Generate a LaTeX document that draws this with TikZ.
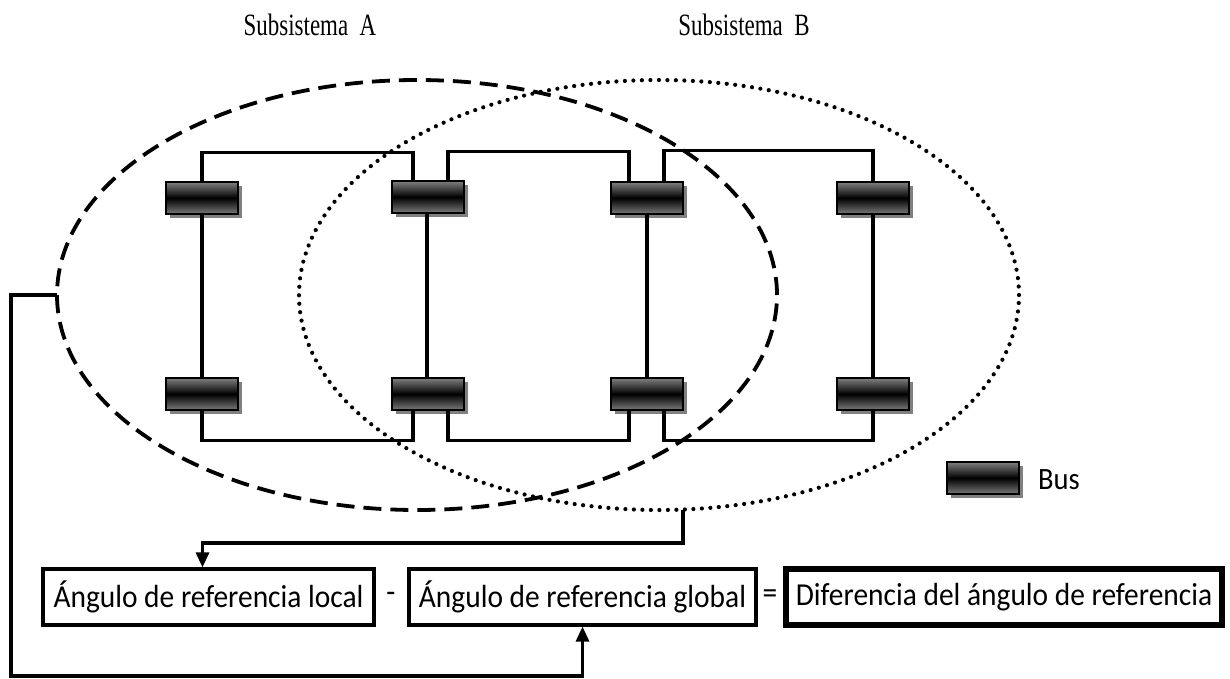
\documentclass[tikz,border=0pt]{standalone}
\usepackage{fontspec}
\setmainfont{Liberation Serif}
\newfontfamily\boxfont[FakeStretch=0.92]{Carlito}
\newfontfamily\titlefont[FakeStretch=0.74]{Liberation Serif}
\usetikzlibrary{arrows.meta,shapes.geometric,shadows}
\begin{document}
\begin{tikzpicture}[x=1pt,y=-1pt,
  bus/.style={draw=black, line width=2.2pt, minimum width=72pt, minimum height=32pt, inner sep=0pt,
     top color=black!50, bottom color=black!52, middle color=black,
     general shadow={fill=black!50, shadow xshift=4pt, shadow yshift=-4pt}},
  wire/.style={line width=3.2pt, line join=miter},
  conn/.style={line width=3.2pt, line join=miter, -{Triangle[width=13pt,length=15pt]}},
  eqbox/.style={draw, line width=3.2pt, minimum height=56pt, inner sep=0pt,
     font=\boxfont\fontsize{32}{38}\selectfont},
  optext/.style={font=\boxfont\fontsize{32}{38}\selectfont, inner sep=0pt},
  title/.style={font=\titlefont\fontsize{31}{35}\selectfont},
  subsysA/.style={ellipse, draw, line width=3.8pt, dash pattern=on 18pt off 9pt,
     minimum width=720pt, minimum height=430pt, inner sep=0pt, outer sep=0pt},
  subsysB/.style={ellipse, draw, line width=4.2pt, line cap=round, dash pattern=on 0pt off 8.5pt,
     minimum width=720pt, minimum height=430pt, inner sep=0pt, outer sep=0pt}
]
\useasboundingbox (0,0) rectangle (1230,679);

% titles
\node[title] (tA) at (310,25) {Subsistema\ \ A};
\node[title] (tB) at (744,25) {Subsistema\ \ B};

% buses
\node[bus] (t1) at (202,198) {};
\node[bus] (t2) at (428,197) {};
\node[bus] (t3) at (647,198) {};
\node[bus] (t4) at (873,198) {};
\node[bus] (b1) at (202,394) {};
\node[bus] (b2) at (428,394) {};
\node[bus] (b3) at (647,394) {};
\node[bus] (b4) at (873,394) {};

% vertical lines
\draw[wire] (t1.south) -- (b1.north);
\draw[wire] ([xshift=-1pt]t2.south) -- ([xshift=-1pt]b2.north);
\draw[wire] (t3.south) -- (b3.north);
\draw[wire] (t4.south) -- (b4.north);

% top links
\draw[wire] (t1.north) -- ++(0,-28) -| ([xshift=-15pt]t2.north);
\draw[wire] ([xshift=20pt]t2.north) -- ++(0,-28) -| ([xshift=-18pt]t3.north);
\draw[wire] ([xshift=17pt]t3.north) -- ++(0,-30) -| (t4.north);

% bottom links
\draw[wire] (b1.south) -- ++(0,29) -| ([xshift=-15pt]b2.south);
\draw[wire] ([xshift=20pt]b2.south) -- ++(0,29) -| ([xshift=-18pt]b3.south);
\draw[wire] ([xshift=17pt]b3.south) -- ++(0,29) -| (b4.south);

% subsystems
\node[subsysA] (subA) at (417,295) {};
\node[subsysB] (subB) at (659,295) {};

% legend
\node[bus] (leg) at (983,478) {};
\node[anchor=west, inner sep=0pt, font=\boxfont\fontsize{31}{36}\selectfont] (legt) at (1038,480) {Bus};

% equation
\node[eqbox, minimum width=331pt] (loc) at (208.5,597) {Ángulo de referencia local};
\node[optext] (minus) at (391,597) {-};
\node[eqbox, minimum width=347pt] (glob) at (582.5,597) {Ángulo de referencia global};
\node[optext] (eq) at (770,597) {=};
\node[eqbox, line width=6pt, minimum width=436pt] (dif) at (1004,597) {Diferencia del ángulo de referencia};

% connectors
\draw[conn] ([xshift=24pt]subB.south) -- ++(0,33) -| ([xshift=-6pt]loc.north);
\draw[conn] (subA.west) -- ++(-46,0) -- ++(0,381) -| (glob.south);
\end{tikzpicture}
\end{document}
